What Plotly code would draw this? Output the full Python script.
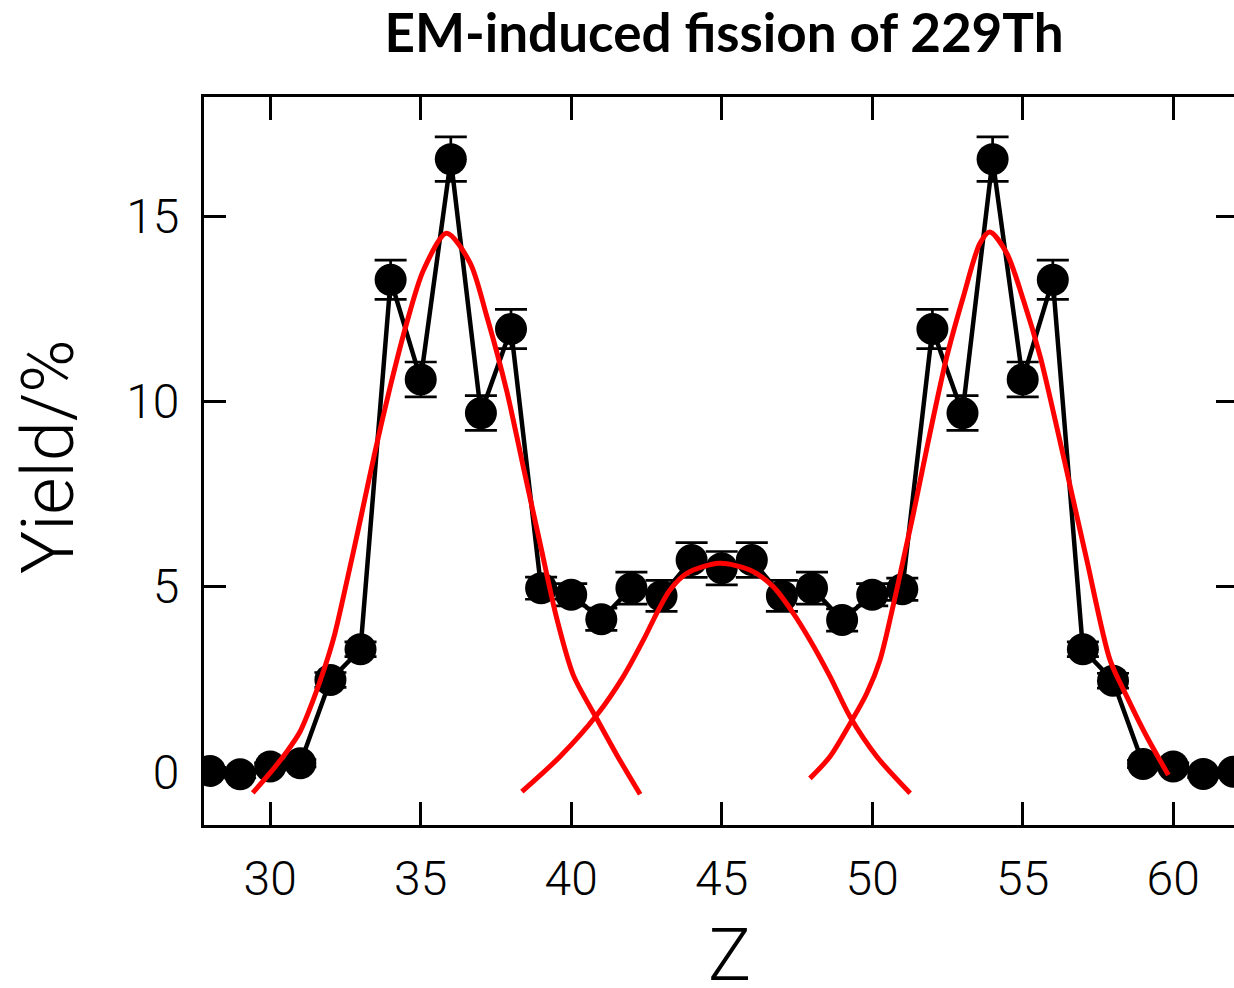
import plotly.graph_objects as go

# Measured fragment charge yields (%) with uncertainties
Z = list(range(28, 63))
yield_pct = [0.02, -0.07, 0.14, 0.23, 2.48, 3.31, 13.29, 10.60, 16.55, 9.69,
             11.96, 4.96, 4.78, 4.12, 4.96, 4.75, 5.72, 5.50, 5.72, 4.75,
             4.96, 4.10, 4.78, 4.93, 11.96, 9.69, 16.55, 10.60, 13.29, 3.31,
             2.46, 0.21, 0.14, -0.06, 0.00]
yield_err = [0.10, 0.10, 0.10, 0.10, 0.20, 0.20, 0.53, 0.47, 0.60, 0.47,
             0.53, 0.30, 0.30, 0.30, 0.43, 0.42, 0.47, 0.45, 0.47, 0.42,
             0.43, 0.30, 0.30, 0.30, 0.53, 0.47, 0.60, 0.47, 0.53, 0.20,
             0.20, 0.10, 0.10, 0.10, 0.10]

# Fitted fission modes (light asymmetric, symmetric, heavy asymmetric)
light_z = [29.42, 29.99, 30.55, 30.99, 31.43, 31.82, 32.15, 32.52, 32.98, 33.48,
           33.98, 34.53, 35.09, 35.86, 36.64, 37.19, 37.86, 38.41, 38.96, 39.52,
           40.07, 40.85, 41.51, 42.29]
light_y = [-0.57, -0.04, 0.54, 1.08, 1.94, 2.84, 3.74, 5.05, 6.75, 8.64,
           10.38, 12.11, 13.55, 14.55, 13.75, 12.32, 10.28, 8.23, 6.19, 4.14,
           2.61, 1.43, 0.46, -0.61]

sym_z = [38.36, 39.63, 40.85, 41.73, 42.40, 42.84, 43.28, 43.84, 44.92, 45.94,
         46.71, 47.38, 47.93, 48.60, 49.26, 50.15, 51.26]
sym_y = [-0.54, 0.41, 1.53, 2.57, 3.56, 4.28, 4.91, 5.36, 5.63, 5.45,
         5.00, 4.28, 3.56, 2.57, 1.49, 0.41, -0.58]

heavy_z = [47.93, 48.60, 49.30, 49.82, 50.26, 50.70, 51.03, 51.37, 51.92, 52.48,
           53.03, 53.58, 53.91, 54.47, 55.02, 55.58, 56.13, 56.68, 57.13, 57.90,
           58.46, 59.12, 59.84]
heavy_y = [-0.18, 0.41, 1.35, 2.12, 3.02, 4.50, 5.72, 6.98, 9.15, 11.22,
           12.84, 14.28, 14.58, 14.01, 12.75, 11.22, 9.32, 7.34, 5.72, 3.02,
           2.03, 0.95, -0.09]

x_ticks = [30, 35, 40, 45, 50, 55, 60]
y_ticks = [0, 5, 10, 15]

TICK_FONT = dict(family="Roboto Light, Roboto, sans-serif", size=48, color="black", weight=300)

fig = go.Figure()

fig.add_trace(go.Scatter(
    x=Z, y=yield_pct, mode="lines+markers",
    line=dict(color="black", width=4.5),
    marker=dict(color="black", size=32, line=dict(width=0)),
    error_y=dict(type="data", array=yield_err, visible=True,
                 color="black", thickness=2.7, width=16),
    showlegend=False,
))

for zz, yy in [(light_z, light_y), (sym_z, sym_y), (heavy_z, heavy_y)]:
    fig.add_trace(go.Scatter(
        x=zz, y=yy, mode="lines",
        line=dict(color="#ff0000", width=5, shape="spline", smoothing=0.8),
        showlegend=False,
    ))

# right-hand tick marks without a frame line
fig.add_trace(go.Scatter(x=[None], y=[None], yaxis="y2", showlegend=False))

fig.update_layout(
    width=1234, height=988,
    margin=dict(l=204, r=0, t=97, b=163, pad=0),
    paper_bgcolor="white", plot_bgcolor="white",
    title=dict(
        text="<b>EM-induced fission of 229Th</b>",
        font=dict(family="Lato, sans-serif", size=53, color="black"),
        x=724 / 1234, xref="container", xanchor="center",
        y=1 - 33 / 988, yref="container", yanchor="middle",
    ),
    xaxis=dict(
        range=[27.80, 62.02], tickvals=x_ticks, ticktext=[str(v) for v in x_ticks],
        ticks="inside", ticklen=23, tickwidth=3, tickcolor="black",
        showline=True, linewidth=3, linecolor="black", mirror="ticks",
        showgrid=False, zeroline=False, tickfont=TICK_FONT,
        ticklabelstandoff=9,
    ),
    yaxis=dict(
        range=[-1.44, 18.23], tickvals=y_ticks, ticktext=[str(v) for v in y_ticks],
        ticks="inside", ticklen=22, tickwidth=3, tickcolor="black",
        showline=True, linewidth=3, linecolor="black", mirror=False,
        showgrid=False, zeroline=False, tickfont=TICK_FONT,
        ticklabelstandoff=12,
    ),
    yaxis2=dict(
        range=[-1.44, 18.23], overlaying="y", side="right",
        tickvals=y_ticks, ticks="inside", ticklen=18, tickwidth=3, tickcolor="black",
        showticklabels=False, showline=False, showgrid=False, zeroline=False,
    ),
    annotations=[
        dict(text="Z", xref="paper", yref="paper",
             x=(729 - 204) / 1030, y=-(955 - 825) / 728,
             xanchor="center", yanchor="middle", showarrow=False,
             font=dict(family="Roboto Light, Roboto, sans-serif", size=72, color="black", weight=300)),
        dict(text="Yield/%", xref="paper", yref="paper",
             x=(48 - 204) / 1030, y=(825 - 457) / 728, textangle=-90,
             xanchor="center", yanchor="middle", showarrow=False,
             font=dict(family="Roboto Light, Roboto, sans-serif", size=72, color="black", weight=300)),
    ],
)

fig.write_html("out.html")
